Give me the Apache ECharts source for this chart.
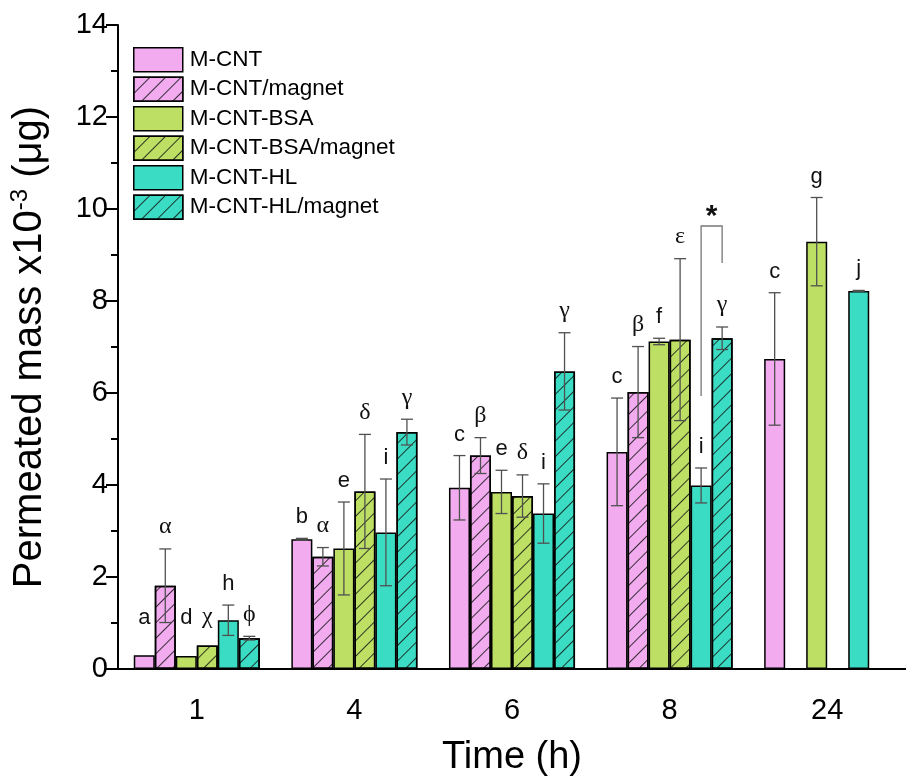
<!DOCTYPE html>
<html>
<head>
<meta charset="utf-8">
<script src="https://cdn.jsdelivr.net/npm/echarts@6/dist/echarts.min.js"></script>
<style>
  html, body { margin: 0; padding: 0; background: #ffffff; }
  #chart { width: 906px; height: 782px; }
</style>
</head>
<body>
<div id="chart"></div>
<script>
// Sampling times (h)
const times = ['1', '4', '6', '8', '24'];

// Permeated mass x10^-3 (µg): means, error bars and significance letters
const seriesNames = ['M-CNT', 'M-CNT/magnet', 'M-CNT-BSA', 'M-CNT-BSA/magnet', 'M-CNT-HL', 'M-CNT-HL/magnet'];

const mCnt = [0.30, 2.82, 3.94, 4.72, 6.74];
const mCntErr = [0, 0.02, 0.70, 1.17, 1.44];
const mCntLetters = ['a', 'b', 'c', 'c', 'c'];

const mCntMagnet = [1.81, 2.44, 4.64, 6.02, null];
const mCntMagnetErr = [0.80, 0.20, 0.39, 0.99, null];
const mCntMagnetLetters = ['α', 'α', 'β', 'β', ''];

const mCntBsa = [0.28, 2.62, 3.85, 7.12, 9.29];
const mCntBsaErr = [0, 1.01, 0.47, 0.07, 0.96];
const mCntBsaLetters = ['d', 'e', 'e', 'f', 'g'];

const mCntBsaMagnet = [0.51, 3.86, 3.76, 7.16, null];
const mCntBsaMagnetErr = [0, 1.24, 0.46, 1.76, null];
const mCntBsaMagnetLetters = ['χ', 'δ', 'δ', 'ε', ''];

const mCntHl = [1.06, 2.97, 3.38, 3.99, 8.22];
const mCntHlErr = [0.33, 1.16, 0.645, 0.38, 0.01];
const mCntHlLetters = ['h', 'i', 'i', 'i', 'j'];

const mCntHlMagnet = [0.67, 5.15, 6.47, 7.19, null];
const mCntHlMagnetErr = [0.04, 0.28, 0.84, 0.245, null];
const mCntHlMagnetLetters = ['ϕ', 'γ', 'γ', 'γ', ''];

// Significant difference between M-CNT-HL and M-CNT-HL/magnet at 8 h
const sigTime = '8';
const sigPair = ['M-CNT-HL', 'M-CNT-HL/magnet'];
const sigMark = '*';

const means = [mCnt, mCntMagnet, mCntBsa, mCntBsaMagnet, mCntHl, mCntHlMagnet];
const errs = [mCntErr, mCntMagnetErr, mCntBsaErr, mCntBsaMagnetErr, mCntHlErr, mCntHlMagnetErr];
const letters = [mCntLetters, mCntMagnetLetters, mCntBsaLetters, mCntBsaMagnetLetters, mCntHlLetters, mCntHlMagnetLetters];

const PINK = '#F1ABEE';
const GREEN = '#BCDF64';
const TEAL = '#3ADDC3';
const fills = [PINK, PINK, GREEN, GREEN, TEAL, TEAL];
const hatched = [false, true, false, true, false, true];

const SANS = 'Arial, "Liberation Sans", Helvetica, sans-serif';
const SERIF = '"Times New Roman", "Liberation Serif", "DejaVu Serif", serif';
const GAP_RATIO = 0.2;          // barCategoryGap
const LETTER_SIZE = 22;

const hatch = {
  symbol: 'rect',
  symbolSize: 1,
  dashArrayX: [1, 0],
  dashArrayY: [1, 10],
  rotation: -Math.PI / 4,
  color: 'rgba(20,20,20,0.85)'
};

const chart = echarts.init(document.getElementById('chart'), null, { renderer: 'canvas' });

// horizontal centre of bar s inside category c
function barCenter(api, c, s) {
  const band = api.size([1, 0])[0];
  const bw = band * (1 - GAP_RATIO) / seriesNames.length;
  return api.coord([c, 0])[0] + (s - (seriesNames.length - 1) / 2) * bw;
}
// bottom edge (px) of the significance letter above bar s in category c
function letterBottom(api, c, s) {
  const v = means[s][c], e = errs[s][c] || 0;
  const top = api.coord([c, v + e])[1];
  const axisY = api.coord([c, 0])[1];
  return Math.min(top - 10, axisY - 40);
}

const barSeries = seriesNames.map((name, s) => {
  const itemStyle = { color: fills[s], borderColor: '#000', borderWidth: 1.5 };
  if (hatched[s]) itemStyle.decal = hatch;
  return {
    name: name,
    type: 'bar',
    barGap: '0%',
    barCategoryGap: (GAP_RATIO * 100) + '%',
    data: means[s],
    itemStyle: itemStyle,
    emphasis: { disabled: true },
    z: 2
  };
});

// error bars and letters
const errData = [];
times.forEach((t, c) => {
  seriesNames.forEach((n, s) => {
    if (means[s][c] != null) errData.push([c, s, means[s][c], errs[s][c] || 0]);
  });
});

const errSeries = {
  type: 'custom',
  name: 'errors',
  data: errData,
  z: 5,
  silent: true,
  renderItem: function (params, api) {
    const c = api.value(0), s = api.value(1), v = api.value(2), e = api.value(3);
    const x = barCenter(api, c, s);
    const children = [];
    if (e > 0) {
      const y1 = api.coord([c, v + e])[1];
      const y2 = api.coord([c, v - e])[1];
      const cap = 6;
      const ls = { stroke: '#505050', lineWidth: 1.3 };
      children.push({ type: 'line', shape: { x1: x, y1: y1, x2: x, y2: y2 }, style: ls });
      children.push({ type: 'line', shape: { x1: x - cap, y1: y1, x2: x + cap, y2: y1 }, style: ls });
      children.push({ type: 'line', shape: { x1: x - cap, y1: y2, x2: x + cap, y2: y2 }, style: ls });
    }
    const txt = letters[s][c];
    if (txt) {
      const greek = !/[a-z]/.test(txt);
      children.push({
        type: 'text',
        style: {
          text: txt,
          x: x,
          y: letterBottom(api, c, s),
          align: 'center',
          verticalAlign: 'bottom',
          fontSize: greek ? LETTER_SIZE + 2 : LETTER_SIZE,
          fontFamily: greek ? SERIF : SANS,
          fill: '#111'
        }
      });
    }
    return { type: 'group', children: children };
  }
};

// significance bracket
const sigSeries = {
  type: 'custom',
  name: 'significance',
  data: [[times.indexOf(sigTime), seriesNames.indexOf(sigPair[0]), seriesNames.indexOf(sigPair[1])]],
  z: 6,
  silent: true,
  renderItem: function (params, api) {
    const c = api.value(0), a = api.value(1), b = api.value(2);
    const xa = barCenter(api, c, a), xb = barCenter(api, c, b);
    const ya = letterBottom(api, c, a) - LETTER_SIZE - 40;
    const yb = letterBottom(api, c, b) - LETTER_SIZE - 32;
    const yt = Math.min(ya, yb) - 37;
    const ls = { stroke: '#777', lineWidth: 1.3, fill: null };
    return {
      type: 'group',
      children: [
        { type: 'polyline', shape: { points: [[xa, ya], [xa, yt], [xb, yt], [xb, yb]] }, style: ls },
        {
          type: 'text',
          style: {
            text: sigMark, x: (xa + xb) / 2, y: yt + 6,
            align: 'center', verticalAlign: 'bottom',
            fontSize: 30, fontWeight: 'bold', fontFamily: SANS, fill: '#111'
          }
        }
      ]
    };
  }
};

const option = {
  backgroundColor: '#ffffff',
  animation: false,
  grid: { left: 115, top: 25, width: 800, height: 646, containLabel: false },
  legend: {
    data: seriesNames,
    orient: 'vertical',
    left: 133,
    top: 47,
    padding: 0,
    itemWidth: 49,
    itemHeight: 24,
    itemGap: 4,
    icon: 'rect',
    selectedMode: false,
    itemStyle: { borderColor: '#000', borderWidth: 1.5 },
    textStyle: { fontSize: 22.5, fontFamily: SANS, color: '#000', padding: [0, 0, 0, 2] }
  },
  xAxis: {
    type: 'category',
    data: times,
    axisLine: { lineStyle: { color: '#000', width: 2 } },
    axisTick: { alignWithLabel: true, length: 11, lineStyle: { color: '#000', width: 2 } },
    axisLabel: { fontSize: 29, fontFamily: SANS, color: '#000', margin: 27 },
    name: 'Time (h)',
    nameLocation: 'middle',
    nameGap: 70,
    nameTextStyle: { fontSize: 38, fontFamily: SANS, color: '#000' },
    splitLine: { show: false }
  },
  yAxis: {
    type: 'value',
    min: 0,
    max: 14,
    interval: 2,
    axisLine: { show: true, lineStyle: { color: '#000', width: 2 } },
    axisTick: { show: true, length: 12, lineStyle: { color: '#000', width: 2 } },
    minorTick: { show: true, splitNumber: 2, length: 7, lineStyle: { color: '#000', width: 2 } },
    axisLabel: { fontSize: 29, fontFamily: SANS, color: '#000', margin: 10 },
    splitLine: { show: false },
    name: 'Permeated mass x10{sup|-3} (μg)',
    nameLocation: 'middle',
    nameGap: 66,
    nameTextStyle: {
      fontSize: 40, fontFamily: SANS, color: '#000', lineHeight: 44,
      rich: { sup: { fontSize: 24, fontFamily: SANS, color: '#000', verticalAlign: 'top', lineHeight: 24 } }
    }
  },
  series: barSeries.concat([errSeries, sigSeries])
};

chart.setOption(option);
</script>
</body>
</html>
